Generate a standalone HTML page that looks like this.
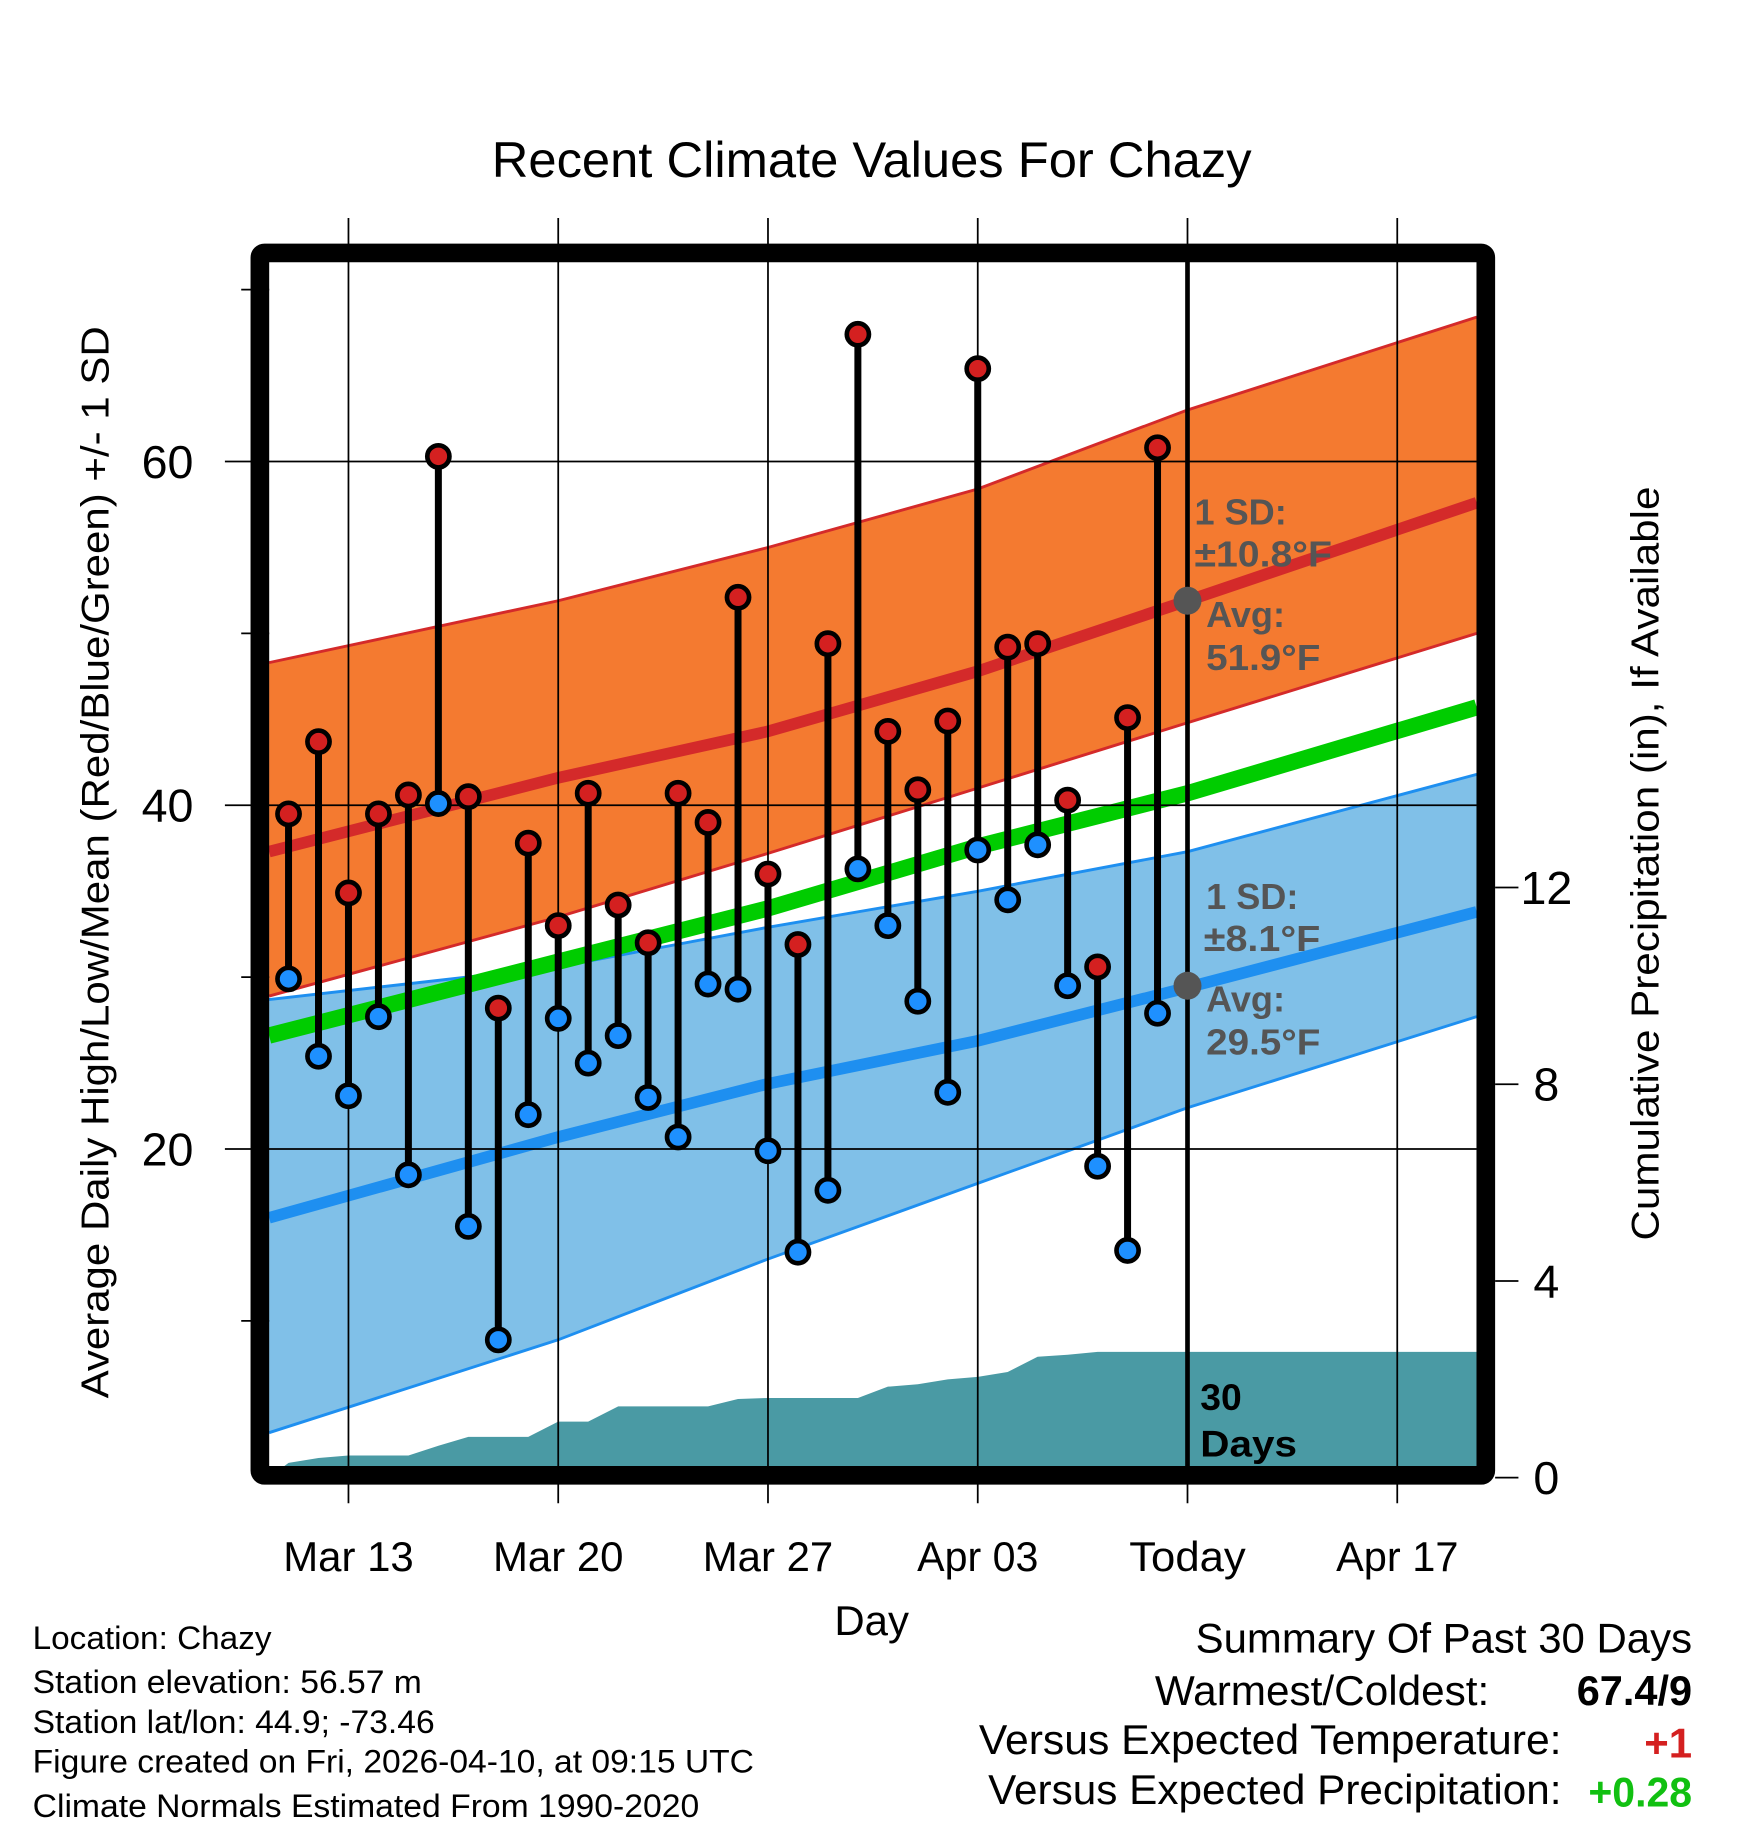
<!DOCTYPE html>
<html><head><meta charset="utf-8"><style>html,body{margin:0;padding:0;background:#fff}svg{display:block}text{font-family:"Liberation Sans",Arial,sans-serif}</style></head>
<body>
<svg id="chart" xmlns="http://www.w3.org/2000/svg" width="1748" height="1828" viewBox="0 0 1500 1568.6">
<rect width="1500" height="1568.6" fill="#fff"/>
<g id="bands"></g>
<g id="grid"></g>
<g id="marks"></g>
<g id="frame"></g>
<g id="labels"></g>
</svg>
<script>
const highs=[39.5,43.7,34.9,39.5,40.6,60.3,40.5,28.2,37.8,33.0,40.7,34.2,32.0,40.7,39.0,52.1,36.0,31.9,49.4,67.4,44.3,40.9,44.9,65.4,49.2,49.4,40.3,30.6,45.1,60.8];
const lows=[29.9,25.4,23.1,27.7,18.5,40.1,15.5,8.9,22.0,27.6,25.0,26.6,23.0,20.7,29.6,29.3,19.9,14.0,17.6,36.3,33.0,28.6,23.3,37.4,34.5,37.7,29.5,19.0,14.1,27.9];
const precip=[0.3,0.4,0.45,0.45,0.45,0.65,0.83,0.83,0.83,1.14,1.14,1.45,1.45,1.45,1.45,1.6,1.62,1.62,1.62,1.62,1.85,1.9,2.0,2.05,2.15,2.46,2.5,2.56,2.56,2.56];
const normDays=[-0.65,9,16,23,30,39.65];
const normHighMean=[37.3,41.6,44.3,47.8,51.9,57.6];
const normHighUp=[48.3,51.9,55.0,58.4,63.0,68.4];
const normHighLo=[28.9,33.5,37.2,41.0,44.8,50.0];
const normLowMean=[16.0,20.7,23.8,26.3,29.4,33.8];
const normLowUp=[28.7,30.6,32.9,35.0,37.3,41.8];
const normLowLo=[3.5,8.9,13.6,18.0,22.4,27.7];
const normMean=[26.6,30.9,34.0,37.6,40.7,45.7];
const xTickDays=[2,9,16,23,30,37];
const xTickLabels=["Mar 13","Mar 20","Mar 27","Apr 03","Today","Apr 17"];
const xTickLens=[112,112,112,104,100,105];
const yTicks=[20,40,60];
const yMinor=[10,30,50,70];
const pTicks=[0,4,8,12];

const NS="http://www.w3.org/2000/svg";
const X=d=>247.6+d*25.714;
const Y=t=>396+(60-t)*14.75;
const P=p=>1268-p*42.2;
const L=231,R=1267,T=224,B=1258;
function el(tag,attrs,parent){const e=document.createElementNS(NS,tag);for(const k in attrs)e.setAttribute(k,attrs[k]);parent.appendChild(e);return e;}
const bands=document.getElementById('bands'),grid=document.getElementById('grid'),marks=document.getElementById('marks'),frame=document.getElementById('frame'),labels=document.getElementById('labels');
function pts(arr){return normDays.map((d,i)=>[X(d),Y(arr[i])]);}
function line(p){return p.map((q,i)=>(i?'L':'M')+q[0].toFixed(1)+','+q[1].toFixed(1)).join(' ');}
function band(up,lo,fill,edge,name){
  const u=pts(up),l=pts(lo);
  const a=el('path',{d:line(u)+' '+line(l.slice().reverse()).replace('M','L')+' Z',fill:fill},bands);
  
  
  [u,l].forEach((p,i)=>{const e=el('path',{d:line(p),fill:'none',stroke:edge,'stroke-width':2.5},bands);
  
  });
}
band(normHighUp,normHighLo,'#f47a30','#d42a2a','high-sd-band');
band(normLowUp,normLowLo,'#80c0e8','#1e8ff0','low-sd-band');
let pd='M'+L+','+B+' L'+L+','+P(0)+' ';
precip.forEach((v,i)=>{pd+='L'+X(i).toFixed(1)+','+P(v).toFixed(1)+' ';});
pd+='L'+R+','+P(precip[precip.length-1]).toFixed(1)+' L'+R+','+B+' Z';
const pa=el('path',{d:pd,fill:'#4a9aa4'},bands);


[[normHighMean,'#d42a2a',10,'high-mean-line'],[normLowMean,'#1e8ff0',10,'low-mean-line'],[normMean,'#00cc00',14,'mean-line']].forEach(([a,c,w,n])=>{
  const e=el('path',{d:line(pts(a)),fill:'none',stroke:c,'stroke-width':w},bands);
  
  
});
xTickDays.forEach((d,i)=>{
  const g=el('line',{x1:X(d),x2:X(d),y1:187,y2:1290,stroke:'#000','stroke-width':1.5},grid);
  
  
  const t=el('text',{x:X(d),y:1348,'font-size':36,'text-anchor':'middle',textLength:xTickLens[i],lengthAdjust:'spacingAndGlyphs'},labels);t.textContent=xTickLabels[i];
  
  
});
yTicks.forEach(v=>{
  const g=el('line',{x1:193,x2:R,y1:Y(v),y2:Y(v),stroke:'#000','stroke-width':1.5},grid);
  
  
  const t=el('text',{x:166,y:Y(v)+14,'font-size':40,'text-anchor':'end'},labels);t.textContent=v;
  
  
});
yMinor.forEach(v=>{const g=el('line',{x1:207,x2:L,y1:Y(v),y2:Y(v),stroke:'#000','stroke-width':1.5},grid);
  
  });
pTicks.forEach(v=>{
  const g=el('line',{x1:1283,x2:1303,y1:P(v),y2:P(v),stroke:'#000','stroke-width':1.5},grid);
  
  
  const t=el('text',{x:1327,y:P(v)+14,'font-size':40,'text-anchor':'middle'},labels);t.textContent=v;
  
  
});
const tl=el('line',{x1:X(30),x2:X(30),y1:T,y2:B,stroke:'#000','stroke-width':4},marks);


highs.forEach((h,i)=>{
  const s=el('line',{x1:X(i),x2:X(i),y1:Y(h),y2:Y(lows[i]),stroke:'#000','stroke-width':6},marks);
  
  
});
highs.forEach((h,i)=>{
  const c=el('circle',{cx:X(i),cy:Y(h),r:9.5,fill:'#d42020',stroke:'#000','stroke-width':4},marks);
  
  
  const c2=el('circle',{cx:X(i),cy:Y(lows[i]),r:9.5,fill:'#1e90ff',stroke:'#000','stroke-width':4},marks);
  
  
});
[51.9,29.5].forEach((v,i)=>{const c=el('circle',{cx:X(30),cy:Y(v),r:12,fill:'#555'},marks);
  
  });
const fr=el('rect',{x:223,y:217,width:1052,height:1049,fill:'none',stroke:'#000','stroke-width':16,rx:4},frame);


function txt(s,attrs,name){const t=el('text',attrs,labels);t.textContent=s;
  
  return t;}
const LA='spacingAndGlyphs';
txt('Recent Climate Values For Chazy',{x:748,y:152,'font-size':43,'text-anchor':'middle',textLength:652,lengthAdjust:LA},'chart-title');
txt('Average Daily High/Low/Mean (Red/Blue/Green) +/- 1 SD',{x:0,y:0,'font-size':33,'text-anchor':'middle',textLength:920,lengthAdjust:LA,transform:'translate(93,740) rotate(-90)'},'y-axis-title');
txt('Cumulative Precipitation (in), If Available',{x:0,y:0,'font-size':33,'text-anchor':'middle',textLength:647,lengthAdjust:LA,transform:'translate(1423,741) rotate(-90)'},'y2-axis-title');
txt('Day',{x:748,y:1403,'font-size':36,'text-anchor':'middle'},'x-axis-title');
const ann=o=>Object.assign({'font-size':31,'font-weight':'bold',fill:'#555'},o);
txt('1 SD:',ann({x:1025,y:450}),'high-sd-label');
txt('±10.8°F',ann({x:1025,y:486,textLength:118,lengthAdjust:LA}),'high-sd-value');
txt('Avg:',ann({x:1035,y:538}),'high-avg-label');
txt('51.9°F',ann({x:1035,y:575,textLength:98,lengthAdjust:LA}),'high-avg-value');
txt('1 SD:',ann({x:1035,y:780}),'low-sd-label');
txt('±8.1°F',ann({x:1033,y:816,textLength:100,lengthAdjust:LA}),'low-sd-value');
txt('Avg:',ann({x:1035,y:868}),'low-avg-label');
txt('29.5°F',ann({x:1035,y:905,textLength:98,lengthAdjust:LA}),'low-avg-value');
txt('30',{x:1030,y:1210,'font-size':32,'font-weight':'bold'},'days-count');
txt('Days',{x:1030,y:1250,'font-size':32,'font-weight':'bold',textLength:83,lengthAdjust:LA},'days-label');
const info=['Location: Chazy','Station elevation: 56.57 m','Station lat/lon: 44.9; -73.46','Figure created on Fri, 2026-04-10, at 09:15 UTC','Climate Normals Estimated From 1990-2020'];
const infoLen=[205,334,345,619,572];
info.forEach((s,i)=>{
  txt(s,{x:28,y:[1415,1453,1487,1521,1559][i],'font-size':28,textLength:infoLen[i],lengthAdjust:LA},'station-info-line');
});
txt('Summary Of Past 30 Days',{x:1452,y:1418,'font-size':36,'text-anchor':'end',textLength:426,lengthAdjust:LA},'summary-title');
txt('Warmest/Coldest:',{x:1278,y:1463,'font-size':36,'text-anchor':'end',textLength:287,lengthAdjust:LA},'warmest-coldest-label');
txt('67.4/9',{x:1452,y:1463,'font-size':36,'text-anchor':'end','font-weight':'bold',textLength:99,lengthAdjust:LA},'warmest-coldest-value');
txt('Versus Expected Temperature:',{x:1340,y:1505,'font-size':36,'text-anchor':'end',textLength:500,lengthAdjust:LA},'temp-departure-label');
txt('+1',{x:1452,y:1508,'font-size':36,'text-anchor':'end','font-weight':'bold',fill:'#d42020'},'temp-departure-value');
txt('Versus Expected Precipitation:',{x:1340,y:1548,'font-size':36,'text-anchor':'end',textLength:492,lengthAdjust:LA},'precip-departure-label');
txt('+0.28',{x:1452,y:1550,'font-size':36,'text-anchor':'end','font-weight':'bold',fill:'#11c011',textLength:89,lengthAdjust:LA},'precip-departure-value');
</script>
</body></html>
